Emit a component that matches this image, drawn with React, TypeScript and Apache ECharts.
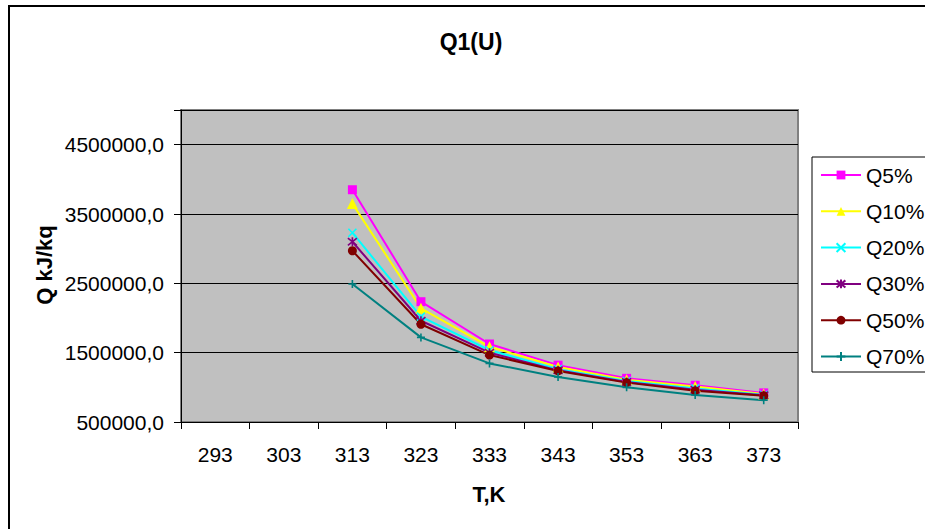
import React, { useEffect, useRef } from "react";
import * as echarts from "echarts";

const categories = ["293", "303", "313", "323", "333", "343", "353", "363", "373"];
const seriesNames = ["Q5%", "Q10%", "Q20%", "Q30%", "Q50%", "Q70%"];
const q5 = [null, null, 3850000, 2235000, 1625000, 1320000, 1130000, 1030000, 920000];
const q10 = [null, null, 3650000, 2140000, 1585000, 1295000, 1110000, 1012000, 905000];
const q20 = [null, null, 3230000, 2020000, 1535000, 1262000, 1090000, 985000, 892000];
const q30 = [null, null, 3100000, 1960000, 1500000, 1245000, 1076000, 965000, 885000];
const q50 = [null, null, 2970000, 1910000, 1465000, 1237000, 1068000, 950000, 880000];
const q70 = [null, null, 2490000, 1720000, 1345000, 1150000, 1000000, 890000, 815000];
const yTicks = [500000, 1500000, 2500000, 3500000, 4500000];

const FONT = "'Liberation Sans', Arial, sans-serif";

export default function App() {
  const ref = useRef<HTMLDivElement>(null);
  useEffect(() => {
    if (!ref.current) return;
    const chart = echarts.init(ref.current, undefined, { renderer: "svg" });
    const mk = (
      name: string,
      data: (number | null)[],
      color: string,
      symbol: string,
      size: number,
      stroke: boolean
    ) => ({
      name,
      type: "line",
      data,
      symbol,
      symbolSize: size,
      showSymbol: true,
      connectNulls: false,
      lineStyle: { color, width: 2 },
      itemStyle: stroke
        ? { color, borderColor: color, borderWidth: 1.6 }
        : { color, borderColor: color, borderWidth: 0 },
      emphasis: { disabled: true },
    });
    const option = {
      animation: false,
      backgroundColor: "#ffffff",
      textStyle: { fontFamily: FONT },
      grid: {
        left: 181,
        top: 110,
        width: 617,
        height: 312,
        show: true,
        backgroundColor: "#C0C0C0",
        borderColor: "#808080",
        borderWidth: 2,
      },
      xAxis: {
        type: "category",
        data: categories,
        boundaryGap: true,
        axisLine: { show: true, lineStyle: { color: "#000", width: 1 } },
        axisTick: { show: true, length: 7, lineStyle: { color: "#000" } },
        axisLabel: { fontSize: 21, color: "#000", margin: 22, fontFamily: FONT },
        splitLine: { show: false },
      },
      yAxis: {
        type: "value",
        min: 500000,
        max: 5000000,
        interval: 1000000,
        axisLine: { show: true, lineStyle: { color: "#000", width: 1 } },
        axisTick: { show: true, length: 7, lineStyle: { color: "#000" } },
        axisLabel: {
          fontSize: 21,
          color: "#000",
          margin: 17,
          fontFamily: FONT,
          formatter: (v: number) =>
            yTicks.includes(v) ? v.toFixed(1).replace(".", ",") : "",
        },
        splitLine: { show: true, lineStyle: { color: "#000", width: 1 } },
      },
      legend: {
        orient: "vertical",
        left: 820,
        top: 164.5,
        padding: 0,
        itemWidth: 40,
        itemHeight: 11,
        itemGap: 15.3,
        z: 10,
        data: seriesNames,
        textStyle: { fontSize: 21, color: "#000", lineHeight: 21, fontFamily: FONT },
      },
      graphic: [
        {
          type: "rect",
          z: 1,
          shape: { x: 812, y: 157, width: 200, height: 215 },
          style: { fill: "#fff", stroke: "#000", lineWidth: 1 },
        },
        {
          type: "rect",
          z: 100,
          shape: { x: 9, y: 6, width: 1000, height: 600 },
          style: { fill: "none", stroke: "#000", lineWidth: 2 },
        },
        {
          type: "text",
          x: 471,
          y: 42,
          style: {
            text: "Q1(U)",
            fill: "#000",
            font: `bold 23px ${FONT}`,
            align: "center",
            verticalAlign: "middle",
          },
        },
        {
          type: "text",
          x: 44,
          y: 265,
          rotation: Math.PI / 2,
          style: {
            text: "Q kJ/kq",
            fill: "#000",
            font: `bold 22px ${FONT}`,
            align: "center",
            verticalAlign: "middle",
          },
        },
        {
          type: "text",
          x: 489,
          y: 494,
          style: {
            text: "T,K",
            fill: "#000",
            font: `bold 22px ${FONT}`,
            align: "center",
            verticalAlign: "middle",
          },
        },
      ],
      series: [
        mk(seriesNames[0], q5, "#FF00FF", "rect", 9, false),
        mk(seriesNames[1], q10, "#FFFF00", "triangle", 11, false),
        mk(seriesNames[2], q20, "#00FFFF", "path://M0,0L10,10M10,0L0,10", 8, true),
        mk(seriesNames[3], q30, "#800080", "path://M1,1L9,9M9,1L1,9M5,0L5,10", 9, true),
        mk(seriesNames[4], q50, "#800000", "circle", 9, false),
        mk(seriesNames[5], q70, "#008080", "path://M5,0L5,10M0,5L10,5", 8, true),
      ],
    };
    chart.setOption(option as any);
    return () => chart.dispose();
  }, []);
  return (
    <div
      ref={ref}
      style={{ position: "absolute", left: 0, top: 0, width: 925, height: 529 }}
    />
  );
}
